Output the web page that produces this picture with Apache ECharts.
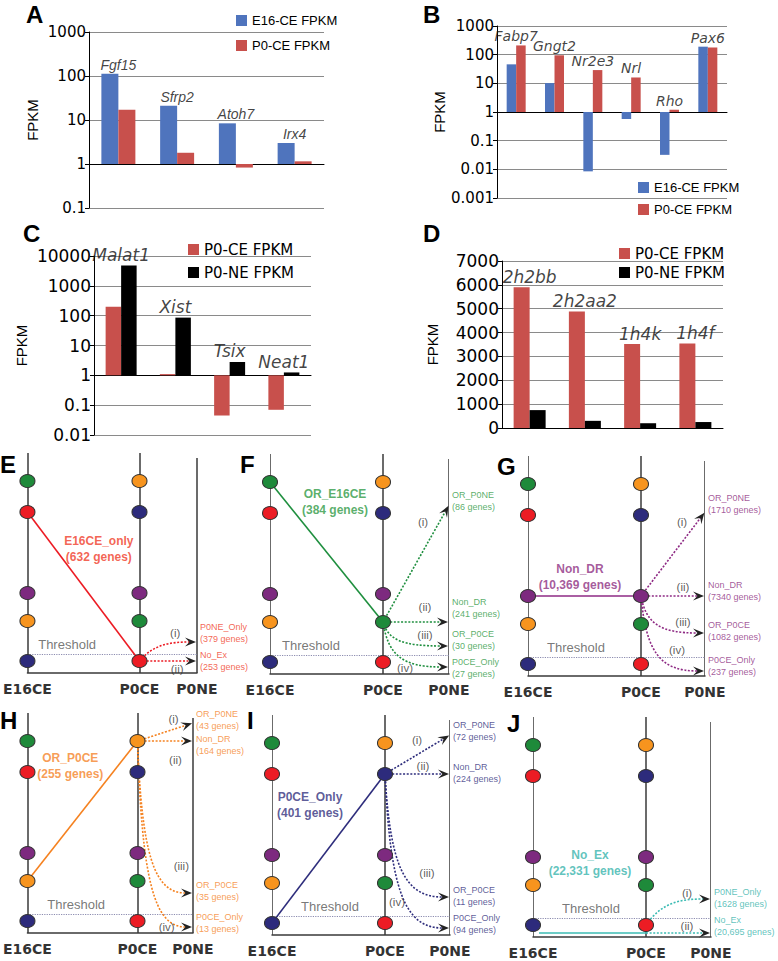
<!DOCTYPE html>
<html>
<head>
<meta charset="utf-8">
<script src="https://cdn.jsdelivr.net/npm/echarts@6/dist/echarts.min.js"></script>
<style>
html, body { margin: 0; padding: 0; background: #fff; }
#main { width: 778px; height: 961px; }
</style>
</head>
<body>
<div id="main"></div>
<script>
// ---- bar panels A-D (FPKM values) ----
var genesA = ['Fgf15', 'Sfrp2', 'Atoh7', 'Irx4'];
var e16ceA = [112, 21, 8.4, 3.0];
var p0ceA = [17, 1.8, 0.83, 1.15];

var genesB = ['Fabp7', 'Gngt2', 'Nr2e3', 'Nrl', 'Rho', 'Pax6'];
var e16ceB = [46, 10.2, 0.0085, 0.57, 0.032, 190];
var p0ceB = [210, 95, 29, 16, 1.2, 178];

var genesC = ['Malat1', 'Xist', 'Tsix', 'Neat1'];
var p0ceC = [200, 1.1, 0.045, 0.07];
var p0neC = [4800, 86, 2.8, 1.25];

var genesD = ['2h2bb', '2h2aa2', '1h4k', '1h4f'];
var p0ceD = [5900, 4880, 3520, 3540];
var p0neD = [750, 300, 200, 250];

// ---- diagrams E-J ----
var stages = ['E16CE', 'P0CE', 'P0NE'];
var classes = ['OR_E16CE', 'E16CE_only', 'Non_DR', 'OR_P0CE', 'P0CE_Only'];
var rankE16 = [0, 1, 2, 3, 4];   // slot on E16CE axis, 0 = top
var rankP0 = [3, 4, 2, 0, 1];    // slot on P0CE axis
var panelClass = ['E16CE_only', 'OR_E16CE', 'Non_DR', 'OR_P0CE', 'P0CE_Only', 'No_Ex'];
var panelGenes = [632, 384, 10369, 255, 401, 22331];
var outcomeNames = [
  ['P0NE_Only', 'No_Ex'],
  ['OR_P0NE', 'Non_DR', 'OR_P0CE', 'P0CE_Only'],
  ['OR_P0NE', 'Non_DR', 'OR_P0CE', 'P0CE_Only'],
  ['OR_P0NE', 'Non_DR', 'OR_P0CE', 'P0CE_Only'],
  ['OR_P0NE', 'Non_DR', 'OR_P0CE', 'P0CE_Only'],
  ['P0NE_Only', 'No_Ex']
];
var outcomeGenes = [
  [379, 253],
  [86, 241, 30, 27],
  [1710, 7340, 1082, 237],
  [43, 164, 35, 13],
  [72, 224, 11, 94],
  [1628, 20695]
];
var romans = ['(i)', '(ii)', '(iii)', '(iv)'];

// layout of the diagrams (px above base line, px right of the E16CE line)
var slotY = [192, 161, 80, 52, 12];
var thrY = 19;
var midX = 113;
var diag = [
  {left: 26, base: 673, w: 171, lab: [72, 124], thr: 40, ends: [31, 12], labY: [40, 12], bends: [1, 0],
   roman: [[149, 40], [151, 4]]},
  {left: 270, base: 674, w: 179, lab: [65, 172], thr: 41, ends: [169, 52, 28, 7], labY: [173, 66, 34, 6], bends: [0, 0, -1, -1],
   roman: [[153, 152], [155, 67], [155, 39], [135, 6]]},
  {left: 528, base: 676, w: 177, lab: [52, 99], thr: 48, ends: [164, 80, 43, 5], labY: [172, 85, 45, 10], bends: [0, 0, -1, -1],
   roman: [[154, 154], [155, 89], [155, 54], [149, 26]]},
  {left: 23, base: 933, w: 170, lab: [44, 167], thr: 50, ends: [210, 192, 40, 6], labY: [213, 188, 42, 10], bends: [0, 0, -1, -1],
   roman: [[150, 214], [152, 173], [158, 67], [143, 6]]},
  {left: 272, base: 935, w: 178, lab: [38, 130], thr: 58, ends: [200, 161, 38, 7], labY: [204, 162, 39, 11], bends: [0, 0, -1, -1],
   roman: [[145, 195], [151, 169], [155, 62], [125, 33]]},
  {left: 533, base: 937, w: 178, lab: [57, 74], thr: 58, ends: [38, 4], labY: [39, 11], bends: [1, 0],
   roman: [[154, 44], [154, 11]], starts: [12, 4], line: [[6, 4], [113, 4]]}
];
var nodeColors = ['#1e8a3a', '#ec1c24', '#7d2a7f', '#f7941e', '#2d2b7c'];
var lineColors = ['#ec1c24', '#1f8f3f', '#8e2a84', '#f58220', '#2e2d7c', '#3cbcb4'];
var textColors = ['#f03c28', '#2f9a45', '#8e2f82', '#f5842a', '#34327e', '#38b4ac'];

var BLUE = '#4f74bd', RED = '#c8504c', BLACK = '#000000';

var grids = [], xAxes = [], yAxes = [], series = [];

function tickFmt(v) { return String(+v.toPrecision(3)); }

function topPanel(i, box, genes, v1, v2, names, cols, yOpt, xOffset, barW, tickFont, geneFont, nameGap) {
  grids.push({left: box[0], top: box[1], width: box[2], height: box[3]});
  xAxes.push({
    type: 'category', gridIndex: i, data: genes, offset: xOffset,
    axisLine: {onZero: false, lineStyle: {color: '#000', width: 1}},
    axisTick: {length: 5, lineStyle: {color: '#000'}},
    axisLabel: {show: false}
  });
  var y = {
    gridIndex: i, name: 'FPKM', nameLocation: 'middle', nameGap: nameGap, nameRotate: 90,
    nameTextStyle: {fontFamily: 'Liberation Sans', fontSize: 15, color: '#000'},
    axisLine: {show: true, lineStyle: {color: '#000'}},
    axisTick: {show: true, length: 4, lineStyle: {color: '#000'}},
    axisLabel: {margin: 3, color: '#000', fontFamily: 'DejaVu Sans', fontSize: tickFont, formatter: tickFmt},
    splitLine: {show: true, lineStyle: {color: '#8a8a8a', width: 1}}
  };
  for (var k in yOpt) y[k] = yOpt[k];
  yAxes.push(y);
  series.push({type: 'bar', name: names[0], xAxisIndex: i, yAxisIndex: i, data: v1, barWidth: barW, barGap: '0%', itemStyle: {color: cols[0]}});
  series.push({type: 'bar', name: names[1], xAxisIndex: i, yAxisIndex: i, data: v2, barWidth: barW, barGap: '0%', itemStyle: {color: cols[1]}});
  series.push({
    type: 'scatter', xAxisIndex: i, yAxisIndex: i, symbolSize: 0, silent: true,
    itemStyle: {color: '#111'},
    data: genes.map(function (g, k) { return Math.max(v1[k], v2[k]); }),
    label: {
      show: true, position: 'top', distance: 2,
      formatter: function (p) { return genes[p.dataIndex]; },
      fontStyle: 'italic', fontFamily: geneFont[0], fontSize: geneFont[1], color: '#111', textBorderWidth: 0
    }
  });
}

topPanel(0, [89, 32, 235, 176], genesA, e16ceA, p0ceA, ['E16-CE FPKM', 'P0-CE FPKM'], [BLUE, RED],
  {type: 'log', logBase: 10, min: 0.1, max: 1000}, -44, 17, 15, ['Liberation Sans', 14], 49);
topPanel(1, [497, 26, 230, 172], genesB, e16ceB, p0ceB, ['E16-CE FPKM', 'P0-CE FPKM'], [BLUE, RED],
  {type: 'log', logBase: 10, min: 0.001, max: 1000}, -86, 9.5, 15, ['DejaVu Sans', 14], 47);
topPanel(2, [94, 256, 217, 179], genesC, p0ceC, p0neC, ['P0-CE FPKM', 'P0-NE FPKM'], [RED, BLACK],
  {type: 'log', logBase: 10, min: 0.01, max: 10000}, -60, 15.5, 17, ['DejaVu Sans', 17], 65);
topPanel(3, [502, 261, 221, 167], genesD, p0ceD, p0neD, ['P0-CE FPKM', 'P0-NE FPKM'], [RED, BLACK],
  {type: 'value', min: 0, max: 7000, interval: 1000}, 0, 16, 17, ['DejaVu Sans', 17], 62);

// ---- diagram panels ----
function arrowRender(color) {
  return function (params, api) {
    var s = api.coord([api.value(0), api.value(1)]);
    var e = api.coord([api.value(2), api.value(3)]);
    var bend = api.value(4);
    var dx = e[0] - s[0], dy = e[1] - s[1];
    var c1, c2;
    if (bend < 0) {
      c1 = [s[0] + dx * 0.08, s[1] + dy * 0.75]; c2 = [s[0] + dx * 0.3, e[1]];
    } else if (bend > 0) {
      c1 = [s[0] + dx * 0.25, s[1] + dy * 0.9]; c2 = [s[0] + dx * 0.55, e[1]];
    } else {
      c1 = [s[0] + dx / 3, s[1] + dy / 3]; c2 = [s[0] + dx * 2 / 3, s[1] + dy * 2 / 3];
    }
    var ux = e[0] - c2[0], uy = e[1] - c2[1];
    var n = Math.sqrt(ux * ux + uy * uy) || 1;
    ux /= n; uy /= n;
    var tip = [e[0] - ux, e[1] - uy];
    var L = 11, W = 4.5;
    var back = [tip[0] - ux * L, tip[1] - uy * L];
    var notch = [tip[0] - ux * L * 0.6, tip[1] - uy * L * 0.6];
    var p1 = [back[0] - uy * W, back[1] + ux * W];
    var p2 = [back[0] + uy * W, back[1] - ux * W];
    return {
      type: 'group',
      children: [
        {type: 'bezierCurve',
         shape: {x1: s[0], y1: s[1], x2: notch[0], y2: notch[1], cpx1: c1[0], cpy1: c1[1], cpx2: c2[0], cpy2: c2[1]},
         style: {stroke: color, lineWidth: 1.6, lineDash: [2, 1.6], fill: 'none'}},
        {type: 'polygon', shape: {points: [tip, p1, notch, p2]}, style: {fill: '#222', stroke: 'none'}}
      ]
    };
  };
}

function fmtGenes(n) {
  return n >= 10000 ? n.toLocaleString('en-US') : String(n);
}

// text centred on its point
function textLabel(color, size, extra) {
  var l = {show: true, position: [0, 0], align: 'center', verticalAlign: 'middle', formatter: '{b}', color: color,
    fontFamily: 'Liberation Sans', fontSize: size, textBorderWidth: 0};
  for (var k in extra) l[k] = extra[k];
  return l;
}

function textSeries(gi, data, color, size, extra) {
  return {type: 'scatter', xAxisIndex: gi, yAxisIndex: gi, silent: true, z: 4, symbolSize: 0,
    itemStyle: {color: color}, data: data, label: textLabel(color, size, extra)};
}

diag.forEach(function (d, p) {
  var gi = 4 + p;
  var w = d.w;
  var stageX = [0, midX, w];
  grids.push({left: d.left, top: d.base - 222, width: w, height: 222});
  xAxes.push({
    type: 'value', gridIndex: gi, min: 0, max: w,
    axisLine: {show: true, lineStyle: {color: '#3a3a3a', width: 1.5}},
    axisTick: {show: false}, splitLine: {show: false},
    axisLabel: {
      customValues: stageX, margin: 9, showMinLabel: true, showMaxLabel: true,
      formatter: function (v) { return stages[stageX.indexOf(v)]; },
      fontFamily: 'DejaVu Sans', fontWeight: 'bold', fontSize: 14, color: '#333'
    }
  });
  yAxes.push({type: 'value', gridIndex: gi, min: 0, max: 222, show: false});

  var ci = classes.indexOf(panelClass[p]);
  var main = d.line ? d.line : [[0, slotY[rankE16[ci]]], [midX, slotY[rankP0[ci]]]];
  var frameStyle = {color: '#3a3a3a', width: 1.5, opacity: 1};
  var frame = [
    {coords: [[0, 0], [0, 220]], lineStyle: frameStyle},
    {coords: [[midX, 0], [midX, 220]], lineStyle: frameStyle},
    {coords: [[w, 0], [w, 215]], lineStyle: frameStyle},
    {coords: [[0, thrY], [w, thrY]], lineStyle: {color: '#8c8cb0', width: 1.2, type: 'dotted', opacity: 1}},
    {coords: main, lineStyle: {color: lineColors[p], width: 1.6, opacity: 1}}
  ];
  series.push({type: 'lines', coordinateSystem: 'cartesian2d', xAxisIndex: gi, yAxisIndex: gi,
    silent: true, z: 1, lineStyle: {opacity: 1}, data: frame});

  // circles
  var nodes = [];
  classes.forEach(function (c, k) {
    nodes.push({value: [0, slotY[rankE16[k]]], itemStyle: {color: nodeColors[k]}});
    nodes.push({value: [midX, slotY[rankP0[k]]], itemStyle: {color: nodeColors[k]}});
  });

  // arrows
  var arrows = d.ends.map(function (ey, k) {
    var sy = d.starts ? d.starts[k] : slotY[rankP0[ci]];
    return [midX, sy, w, ey, d.bends[k]];
  });
  series.push({type: 'custom', coordinateSystem: 'cartesian2d', xAxisIndex: gi, yAxisIndex: gi,
    silent: true, z: 2, renderItem: arrowRender(lineColors[p]), data: arrows,
    encode: {x: [0, 2], y: [1, 3]}});

  series.push({type: 'scatter', xAxisIndex: gi, yAxisIndex: gi, silent: true, z: 3,
    symbol: 'circle', symbolSize: [15, 13],
    itemStyle: {borderColor: '#333', borderWidth: 1, opacity: 1},
    data: nodes});

  // texts
  series.push(textSeries(gi,
    [{value: d.lab, name: panelClass[p] + '\n(' + fmtGenes(panelGenes[p]) + ' genes)'}],
    textColors[p], 12, {fontWeight: 'bold', lineHeight: 16}));
  series.push(textSeries(gi,
    d.labY.map(function (ly, k) {
      return {value: [w, ly], name: outcomeNames[p][k] + '\n(' + fmtGenes(outcomeGenes[p][k]) + ' genes)'};
    }),
    textColors[p], 9, {position: [3, 0], lineHeight: 12, align: 'left'}));
  series.push(textSeries(gi,
    d.roman.map(function (r, k) { return {value: r, name: romans[k]}; }),
    '#333', 11.5));
  series.push(textSeries(gi, [{value: [d.thr, 29], name: 'Threshold'}], '#555', 13));
});

var letters = [
  ['A', 26, 2], ['B', 423, 2], ['C', 23, 221], ['D', 423, 221],
  ['E', 0, 452], ['F', 240, 452], ['G', 497, 454],
  ['H', 0, 708], ['I', 247, 708], ['J', 507, 711]
];

var legendBase = {
  orient: 'vertical', icon: 'rect', itemWidth: 11, itemHeight: 11, padding: 0, selectedMode: false
};
function legendAt(left, top, data, font, size, gap) {
  var l = {left: left, top: top, data: data, itemGap: gap,
    textStyle: {fontFamily: font, fontSize: size, color: '#000'}};
  for (var k in legendBase) l[k] = legendBase[k];
  return l;
}

var chart = echarts.init(document.getElementById('main'), null, {renderer: 'svg'});
chart.setOption({
  animation: false,
  backgroundColor: '#fff',
  title: letters.map(function (t) {
    return {text: t[0], left: t[1], top: t[2], padding: 0,
      textStyle: {fontFamily: 'Liberation Sans', fontWeight: 'bold', fontSize: 24, color: '#000'}};
  }),
  legend: [
    legendAt(236, 14, ['E16-CE FPKM', 'P0-CE FPKM'], 'Liberation Sans', 13, 12),
    legendAt(638, 181, ['E16-CE FPKM', 'P0-CE FPKM'], 'Liberation Sans', 13, 9),
    legendAt(188, 242, ['P0-CE FPKM', 'P0-NE FPKM'], 'DejaVu Sans', 15, 8),
    legendAt(619, 246, ['P0-CE FPKM', 'P0-NE FPKM'], 'DejaVu Sans', 15, 4)
  ],
  grid: grids,
  xAxis: xAxes,
  yAxis: yAxes,
  series: series
});
</script>
</body>
</html>
